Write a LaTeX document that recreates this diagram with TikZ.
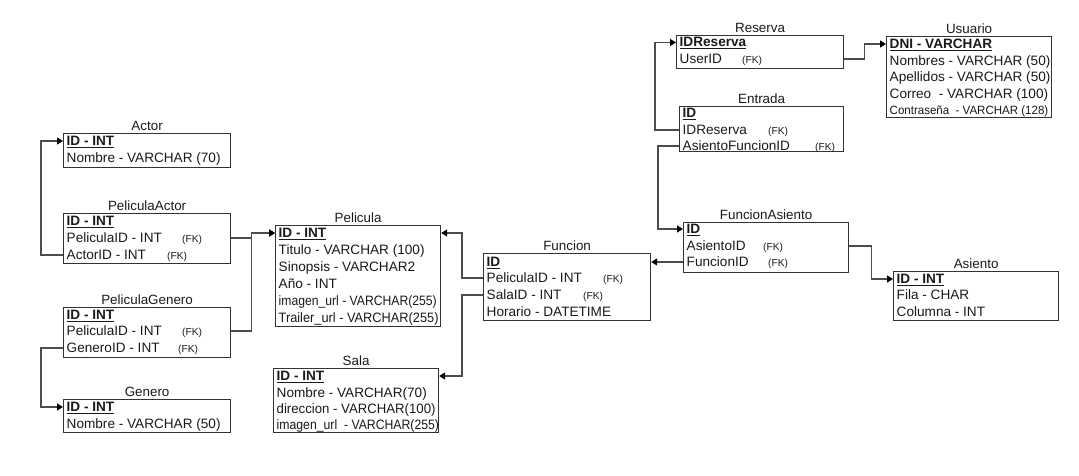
\documentclass[tikz,border=0pt]{standalone}
\usepackage{fontspec}
\usepackage{graphicx}
\setmainfont{Liberation Sans}
\usetikzlibrary{arrows.meta}
\definecolor{boxline}{HTML}{333333}
\definecolor{wire}{HTML}{4D4D4D}
\definecolor{ink}{HTML}{1A1A1A}
% primary-key field: bold with a heavy underline
\newcommand\keyrow[1]{\setbox0\hbox{\bfseries #1}\rlap{\rule[-2.4pt]{\wd0}{1.1pt}}\box0}
% field followed by a small (FK) tag at a fixed column
\newcommand\fkcol[2]{\makebox[#1][l]{#2}{\fontsize{10.2}{11}\selectfont(FK)}}
% horizontally condensed text
\newcommand\narrow[2]{\scalebox{#1}[1]{#2}}
\tikzset{
  tbl/.style={draw=boxline, line width=1.2pt, anchor=north west, inner sep=0pt, fill=white},
  ttl/.style={anchor=south, inner xsep=0pt, inner ysep=2.2pt, text depth=0pt,
              font=\fontsize{13.4}{15}\selectfont, text=ink},
  row/.style={anchor=west, inner xsep=3.5pt, inner ysep=0pt, text height=12pt, text depth=3pt,
              font=\fontsize{13.6}{15}\selectfont, text=ink},
  fk/.style={draw=wire, line width=1.3pt, -{Triangle[length=6pt,width=7pt,color=black]}}
}
\begin{document}
\begin{tikzpicture}[x=1pt,y=-1pt]
\useasboundingbox (0,0) rectangle (1079,476);

% ---- Actor
\node[tbl, minimum width=167pt, minimum height=34pt] (actor) at (63,133) {};
\node[ttl] (actor-t) at (actor.north) {Actor};
\node[row] (actor-1) at (63,141) {\keyrow{ID - INT}};
\node[row] (actor-2) at (63,158) {Nombre - VARCHAR (70)};

% ---- PeliculaActor
\node[tbl, minimum width=167pt, minimum height=50pt] (pa) at (63,213) {};
\node[ttl] (pa-t) at (pa.north) {PeliculaActor};
\node[row] (pa-1) at (63,221) {\keyrow{ID - INT}};
\node[row] (pa-2) at (63,238) {\fkcol{115.5pt}{PeliculaID - INT}};
\node[row] (pa-3) at (63,255) {\fkcol{100.5pt}{ActorID - INT}};

% ---- PeliculaGenero
\node[tbl, minimum width=167pt, minimum height=50pt] (pg) at (63,307) {};
\node[ttl] (pg-t) at (pg.north) {PeliculaGenero};
\node[row] (pg-1) at (63,315) {\keyrow{ID - INT}};
\node[row] (pg-2) at (63,331) {\fkcol{115.5pt}{PeliculaID - INT}};
\node[row] (pg-3) at (63,348) {\fkcol{111.5pt}{GeneroID - INT}};

% ---- Genero
\node[tbl, minimum width=167pt, minimum height=33pt] (gen) at (63,399) {};
\node[ttl] (gen-t) at (gen.north) {Genero};
\node[row] (gen-1) at (63,407) {\keyrow{ID - INT}};
\node[row] (gen-2) at (63,424) {Nombre - VARCHAR (50)};

% ---- Pelicula
\node[tbl, minimum width=165pt, minimum height=101pt] (pel) at (275,225) {};
\node[ttl] (pel-t) at (pel.north) {Pelicula};
\node[row] (pel-1) at (275,233) {\keyrow{ID - INT}};
\node[row] (pel-2) at (275,250) {Titulo - VARCHAR (100)};
\node[row] (pel-3) at (275,267) {Sinopsis - VARCHAR2};
\node[row] (pel-4) at (275,284) {Año - INT};
\node[row] (pel-5) at (275,301) {\narrow{0.895}{imagen\_url - VARCHAR(255)}};
\node[row] (pel-6) at (275,318) {\narrow{0.94}{Trailer\_url - VARCHAR(255)}};

% ---- Sala
\node[tbl, minimum width=165pt, minimum height=64pt] (sala) at (273,368) {};
\node[ttl] (sala-t) at (sala.north) {Sala};
\node[row] (sala-1) at (273,376) {\keyrow{ID - INT}};
\node[row] (sala-2) at (273,392.5) {Nombre - VARCHAR(70)};
\node[row] (sala-3) at (273,409) {\narrow{0.97}{direccion - VARCHAR(100)}};
\node[row] (sala-4) at (273,425) {\narrow{0.9}{imagen\_url\ \ - VARCHAR(255)}};

% ---- Funcion
\node[tbl, minimum width=167pt, minimum height=67pt] (fun) at (483,253) {};
\node[ttl] (fun-t) at (fun.north) {Funcion};
\node[row] (fun-1) at (483,262) {\keyrow{ID}};
\node[row] (fun-2) at (483,278) {\fkcol{116.5pt}{PeliculaID - INT}};
\node[row] (fun-3) at (483,295) {\fkcol{96.5pt}{SalaID - INT}};
\node[row] (fun-4) at (483,312) {Horario - DATETIME};

% ---- FuncionAsiento
\node[tbl, minimum width=165pt, minimum height=50pt] (fa) at (683,222) {};
\node[ttl] (fa-t) at (fa.north) {FuncionAsiento};
\node[row] (fa-1) at (683,229) {\keyrow{ID}};
\node[row] (fa-2) at (683,246) {\fkcol{76.5pt}{AsientoID}};
\node[row] (fa-3) at (683,262) {\fkcol{81.5pt}{FuncionID}};

% ---- Asiento
\node[tbl, minimum width=165pt, minimum height=49pt] (asi) at (893,271) {};
\node[ttl] (asi-t) at (asi.north) {Asiento};
\node[row] (asi-1) at (893,279) {\keyrow{ID - INT}};
\node[row] (asi-2) at (893,295) {Fila - CHAR};
\node[row] (asi-3) at (893,312) {Columna - INT};

% ---- Reserva
\node[tbl, minimum width=167pt, minimum height=33pt] (res) at (676,35) {};
\node[ttl] (res-t) at (res.north) {Reserva};
\node[row] (res-1) at (676,42.5) {\keyrow{IDReserva}};
\node[row] (res-2) at (676,59) {\fkcol{62.5pt}{UserID}};

% ---- Entrada
\node[tbl, minimum width=164pt, minimum height=45pt] (ent) at (679,106) {};
\node[ttl] (ent-t) at (ent.north) {Entrada};
\node[row] (ent-1) at (679,113) {\keyrow{ID}};
\node[row] (ent-2) at (679,130) {\fkcol{85.5pt}{IDReserva}};
\node[row] (ent-3) at (679,146) {\fkcol{132.5pt}{AsientoFuncionID}};

% ---- Usuario
\node[tbl, minimum width=165pt, minimum height=81pt] (usu) at (886,36) {};
\node[ttl] (usu-t) at (usu.north) {Usuario};
\node[row] (usu-1) at (886,44) {\keyrow{DNI - VARCHAR}};
\node[row] (usu-2) at (886,61) {Nombres - VARCHAR (50)};
\node[row] (usu-3) at (886,77.5) {Apellidos - VARCHAR (50)};
\node[row] (usu-4) at (886,94) {Correo\ \ - VARCHAR (100)};
\node[row] (usu-5) at (886,110) {\fontsize{12}{14}\selectfont\narrow{0.96}{Contraseña\ \ - VARCHAR (128)}};

% ---- foreign-key connectors
\draw[fk] (pa.west |- pa-3) -- ++(-22,0) |- (actor.west |- actor-1);
\draw[fk] (pa.east |- pa-2) -- ++(20,0) |- (pel.west |- pel-1);
\draw[fk] (pg.east |- pg-2) -- ++(20,0) |- (pel.west |- pel-1);
\draw[fk] (pg.west |- pg-3) -- ++(-22,0) |- (gen.west |- gen-1);
\draw[fk] (fun.west |- fun-2) -- ++(-21,0) |- (pel.east |- pel-1);
\draw[fk] (fun.west |- fun-3) -- ++(-21,0) |- (sala.east |- sala-1);
\draw[fk] (fa.west |- fa-3) -- (fun.east |- fun-1);
\draw[fk] (ent.west |- ent-3) -- ++(-21,0) |- (fa.west |- fa-1);
\draw[fk] (ent.west |- ent-2) -- ++(-24,0) |- (res.west |- res-1);
\draw[fk] (res.east |- res-2) -- ++(20,0) |- (usu.west |- usu-1);
\draw[fk] (fa.east |- fa-2) -- ++(22,0) |- (asi.west |- asi-1);
\end{tikzpicture}
\end{document}
